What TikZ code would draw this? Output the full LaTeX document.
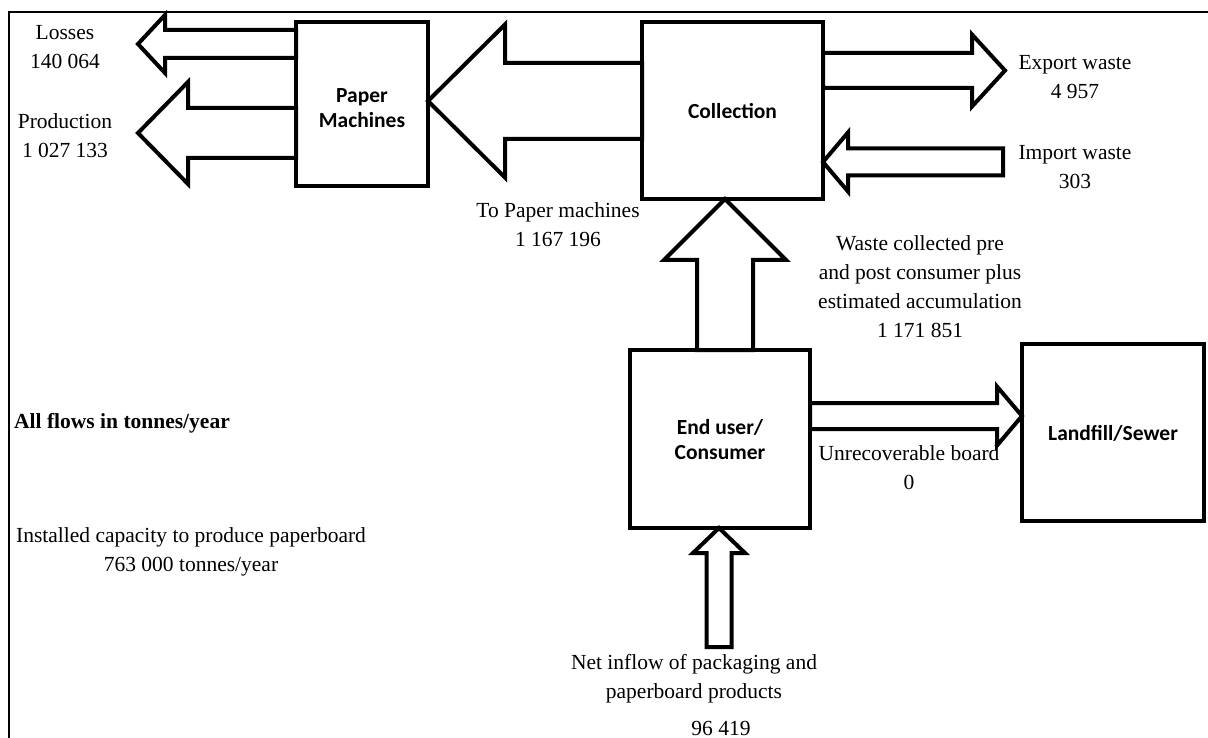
\documentclass[tikz,border=0pt]{standalone}
\usepackage{fontspec}
\setmainfont{Liberation Serif}
\newfontfamily\boxfont{Carlito}
\usetikzlibrary{calc}

% Block arrow from #1 (base) to #2 (tip):
% #3 shaft half-width, #4 head half-width, #5 head length
\newcommand{\flowarrow}[5]{%
  \coordinate (fa-h) at ($(#2)!#5!(#1)$);
  \draw[flow] ($(#1)!#3!90:(#2)$) -- ($(fa-h)!#3!90:(#2)$) -- ($(fa-h)!#4!90:(#2)$)
    -- (#2) -- ($(fa-h)!#4!-90:(#2)$) -- ($(fa-h)!#3!-90:(#2)$)
    -- ($(#1)!#3!-90:(#2)$) -- cycle;
}

\tikzset{
  lbl/.style={font=\fontsize{21.5}{29}\selectfont, align=center, inner sep=0pt},
  boxlbl/.style={font=\boxfont\bfseries\fontsize{21.5}{25}\selectfont, align=center},
  stockbox/.style={draw, rectangle, line width=4.5pt, fill=white, inner sep=0pt, outer sep=0pt},
  flow/.style={line width=4pt, fill=white, line join=miter},
  frameline/.style={line width=2.5pt, line join=miter}
}

\begin{document}
\begin{tikzpicture}[x=1pt, y=-1pt]
  \useasboundingbox (0,0) rectangle (1208,738);
  \fill[white] (0,0) rectangle (1208,738);

  % frame
  \draw[frameline] (9,738) -- (9,12) -- (1208,12);

  % stocks
  \node[stockbox, minimum width=132pt, minimum height=164pt] (pm) at (362,104) {};
  \node[stockbox, minimum width=181pt, minimum height=177pt] (coll) at (732.5,110.5) {};
  \node[stockbox, minimum width=180pt, minimum height=178pt] (eu) at (720,439) {};
  \node[stockbox, minimum width=182pt, minimum height=177pt] (lf) at (1113,432.5) {};

  % free arrow ends
  \coordinate (loss-tip) at (138,44);
  \coordinate (prod-tip) at (138,133);
  \coordinate (exp-tip) at (1005,70.5);
  \coordinate (imp-base) at (1003,162);
  \coordinate (net-base) at (719,647);

  % flows
  \flowarrow{$(pm.north west)+(0,22)$}{loss-tip}{14pt}{29pt}{27pt}
  \flowarrow{$(pm.north west)+(0,111)$}{prod-tip}{25pt}{51pt}{50pt}
  \flowarrow{$(coll.north west)+(0,79)$}{$(pm.north east)+(0,79)$}{38pt}{76.5pt}{77pt}
  \flowarrow{$(coll.north east)+(0,48.5)$}{exp-tip}{17.5pt}{36pt}{33pt}
  \flowarrow{imp-base}{$(coll.north east)+(0,140)$}{13.5pt}{29.5pt}{25pt}
  \flowarrow{$(eu.north west)+(95,0)$}{$(coll.south west)+(83,0)$}{28pt}{61pt}{61pt}
  \flowarrow{$(eu.north east)+(0,66)$}{$(lf.north west)+(0,72)$}{13pt}{29.5pt}{25pt}
  \flowarrow{net-base}{$(eu.south west)+(89,0)$}{12.5pt}{26pt}{25pt}

  % redraw stock borders over arrow bases
  \node[stockbox, fill=none, minimum width=132pt, minimum height=164pt] at (pm) {};
  \node[stockbox, fill=none, minimum width=181pt, minimum height=177pt] at (coll) {};
  \node[stockbox, fill=none, minimum width=180pt, minimum height=178pt] at (eu) {};
  \node[stockbox, fill=none, minimum width=182pt, minimum height=177pt] at (lf) {};

  % stock labels
  \node[boxlbl] (pm-t) at (362,108) {Paper\\Machines};
  \node[boxlbl] (coll-t) at (732.5,111) {Collection};
  \node[boxlbl] (eu-t) at (720,440) {End user/\\Consumer};
  \node[boxlbl] (lf-t) at (1113,433) {Landfill/Sewer};

  % flow labels
  \node[lbl] (loss-t) at (65,47) {Losses\\140 064};
  \node[lbl] (prod-t) at (65,136) {Production\\1 027 133};
  \node[lbl] (topm-t) at (558,225) {To Paper machines\\1 167 196};
  \node[lbl] (exp-t) at (1075,77) {Export waste\\4 957};
  \node[lbl] (imp-t) at (1075,167) {Import waste\\303};
  \node[lbl] (wc-t) at (920,287) {Waste collected pre\\and post consumer plus\\estimated accumulation\\1 171 851};
  \node[lbl] (unr-t) at (909,468) {Unrecoverable board\\0};
  \node[lbl] (net-t) at (694,679) {Net inflow of packaging and\\paperboard products};
  \node[lbl] (net-v) at (721,728) {96 419};
  \node[lbl, anchor=west, font=\bfseries\fontsize{21.5}{29}\selectfont] (unit-t) at (14,423) {All flows in tonnes/year};
  \node[lbl] (cap-t) at (191,552) {Installed capacity to produce paperboard\\763 000 tonnes/year};
\end{tikzpicture}
\end{document}
